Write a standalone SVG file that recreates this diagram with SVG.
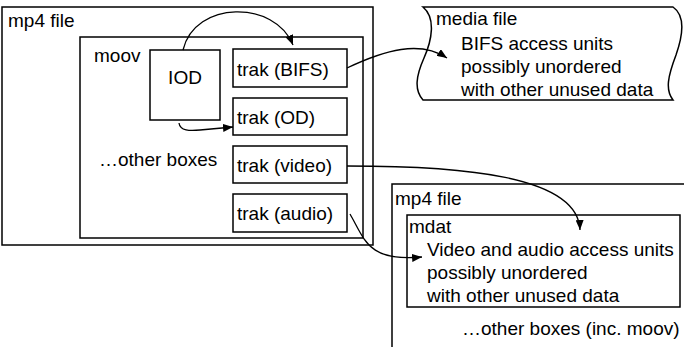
<svg xmlns="http://www.w3.org/2000/svg" width="684" height="347" viewBox="0 0 684 347">
<style>
.box{fill:#fff;stroke:#000;stroke-width:1.5}
.t{font-family:"Liberation Sans",Arial,sans-serif;font-size:19px;fill:#000}
.c{fill:none;stroke:#000;stroke-width:1.3}
</style>
<defs>
<marker id="ah" viewBox="0 0 10 8" refX="10" refY="4" markerWidth="10" markerHeight="8" markerUnits="userSpaceOnUse" orient="auto">
<path d="M0,0 L10,4 L0,8 Z" fill="#000"/>
</marker>
</defs>
<rect width="684" height="347" fill="#fff"/>
<g id="mp4file1">
<rect class="box" x="2" y="7" width="371" height="238"/>
<text class="t" x="8" y="27">mp4 file</text>
</g>
<g id="moov">
<rect class="box" x="80" y="37" width="283" height="201"/>
<text class="t" x="94" y="62">moov</text>
<text class="t" x="99" y="166">…other boxes</text>
</g>
<g id="iod">
<rect class="box" x="150" y="50" width="70" height="70"/>
<text class="t" x="185" y="84" text-anchor="middle">IOD</text>
</g>
<g id="trak-bifs">
<rect class="box" x="233" y="49" width="114" height="38"/>
<text class="t" x="237" y="76">trak (BIFS)</text>
</g>
<g id="trak-od">
<rect class="box" x="233" y="98" width="114" height="37"/>
<text class="t" x="237" y="124">trak (OD)</text>
</g>
<g id="trak-video">
<rect class="box" x="233" y="146" width="114" height="37"/>
<text class="t" x="237" y="172">trak (video)</text>
</g>
<g id="trak-audio">
<rect class="box" x="233" y="194" width="114" height="38"/>
<text class="t" x="237" y="220">trak (audio)</text>
</g>
<g id="mediafile">
<path class="box" d="M423,7 L673,7 C686,16 682,38 676,55 C668,76 665,90 673,100 L423,100 C414,90 416,76 424,58 C432,40 436,18 423,7 Z"/>
<text class="t" x="436" y="25">media file</text>
<text class="t" x="461" y="50">BIFS access units</text>
<text class="t" x="461" y="73">possibly unordered</text>
<text class="t" x="461" y="96">with other unused data</text>
</g>
<g id="mp4file2">
<path class="box" d="M392,347 L392,184 L684,184"/>
<text class="t" x="395" y="205">mp4 file</text>
</g>
<g id="mdat">
<rect class="box" x="407" y="215" width="273" height="92"/>
<text class="t" x="409" y="233">mdat</text>
<text class="t" x="427" y="256">Video and audio access units</text>
<text class="t" x="427" y="279">possibly unordered</text>
<text class="t" x="427" y="302">with other unused data</text>
<text class="t" x="462" y="335">…other boxes (inc. moov)</text>
</g>
<g id="connectors">
<path class="c" d="M183,50 C195,0 275,0 293,45" marker-end="url(#ah)"/>
<path class="c" d="M179,123 C180,131 190,131 200,130 L233,127" marker-end="url(#ah)"/>
<path class="c" d="M347,68 C385,50 420,40 447,58" marker-end="url(#ah)"/>
<path class="c" d="M347,166 C460,166 578,175 580,230" marker-end="url(#ah)"/>
<path class="c" d="M350,214 C365,240 368,262 422,257" marker-end="url(#ah)"/>
</g>
</svg>
